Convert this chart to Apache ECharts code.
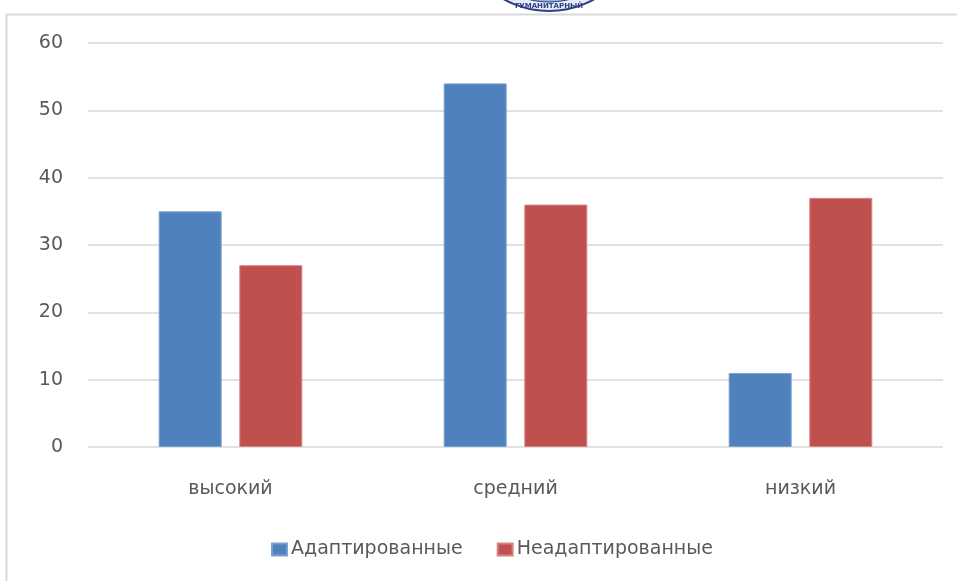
<!DOCTYPE html>
<html>
<head>
<meta charset="utf-8">
<script src="https://cdn.jsdelivr.net/npm/echarts@6/dist/echarts.min.js"></script>
<style>
  html, body { margin: 0; padding: 0; background: #fff; }
  #chart { width: 957px; height: 581px; }
</style>
</head>
<body>
<div id="chart"></div>
<script>
// Levels of adaptation
const categories = ['высокий', 'средний', 'низкий'];
const seriesNames = ['Адаптированные', 'Неадаптированные'];
const adaptedValues = [35, 54, 11];
const nonAdaptedValues = [27, 36, 37];
const yTicks = [0, 10, 20, 30, 40, 50, 60];

const FONT = '"DejaVu Sans", "Liberation Sans", Arial, sans-serif';
const TEXT = '#595959';

const chart = echarts.init(document.getElementById('chart'));
chart.setOption({
  animation: false,
  backgroundColor: '#ffffff',
  graphic: [
    // frame of the chart area
    { type: 'line', shape: { x1: 6.5, y1: 14, x2: 6.5, y2: 581 }, style: { stroke: '#d9d9d9', lineWidth: 2 } },
    { type: 'line', shape: { x1: 6, y1: 14.5, x2: 957, y2: 14.5 }, style: { stroke: '#d9d9d9', lineWidth: 2 } },
    // emblem peeking in at the top edge
    { type: 'circle', shape: { cx: 549, cy: -82, r: 94 }, style: { fill: '#2e3d85' }, z: 10 },
    { type: 'circle', shape: { cx: 549, cy: -82, r: 92 }, style: { fill: '#e6ecf6' }, z: 10 },
    { type: 'circle', shape: { cx: 549, cy: -82, r: 84 }, style: { fill: '#8fb6e0', stroke: '#2e3d85', lineWidth: 1 }, z: 10 },
    { type: 'text', x: 549, y: 6, style: { text: 'ГУМАНИТАРНЫЙ', fill: '#2e3d85', fontSize: 7, fontWeight: 'bold', fontFamily: FONT, align: 'center', verticalAlign: 'middle' }, z: 11 }
  ],
  grid: { left: 88, right: 14, top: 43, bottom: 134, containLabel: false },
  legend: {
    bottom: 17,
    left: 266,
    itemWidth: 15,
    itemHeight: 12,
    itemGap: 34,
    icon: 'rect',
    textStyle: { color: TEXT, fontSize: 19, fontFamily: FONT, padding: [0, 0, 0, -1] },
    data: seriesNames
  },
  xAxis: {
    type: 'category',
    data: categories,
    axisLine: { show: false },
    axisTick: { show: false },
    axisLabel: { color: TEXT, fontSize: 19, fontFamily: FONT, margin: 33 }
  },
  yAxis: {
    type: 'value',
    min: yTicks[0],
    max: yTicks[yTicks.length - 1],
    interval: 10,
    axisLine: { show: false },
    axisTick: { show: false },
    axisLabel: { color: TEXT, fontSize: 19, fontFamily: FONT, margin: 25 },
    splitLine: { lineStyle: { color: '#d9d9d9', width: 1.5 } }
  },
  series: [
    {
      name: seriesNames[0],
      type: 'bar',
      data: adaptedValues,
      barWidth: 63,
      barGap: '28%',
      itemStyle: { color: '#4f81bd', borderColor: '#7aa0d0', borderWidth: 1 }
    },
    {
      name: seriesNames[1],
      type: 'bar',
      data: nonAdaptedValues,
      barWidth: 63,
      itemStyle: { color: '#c0504d', borderColor: '#d68381', borderWidth: 1 }
    }
  ]
});
</script>
</body>
</html>
